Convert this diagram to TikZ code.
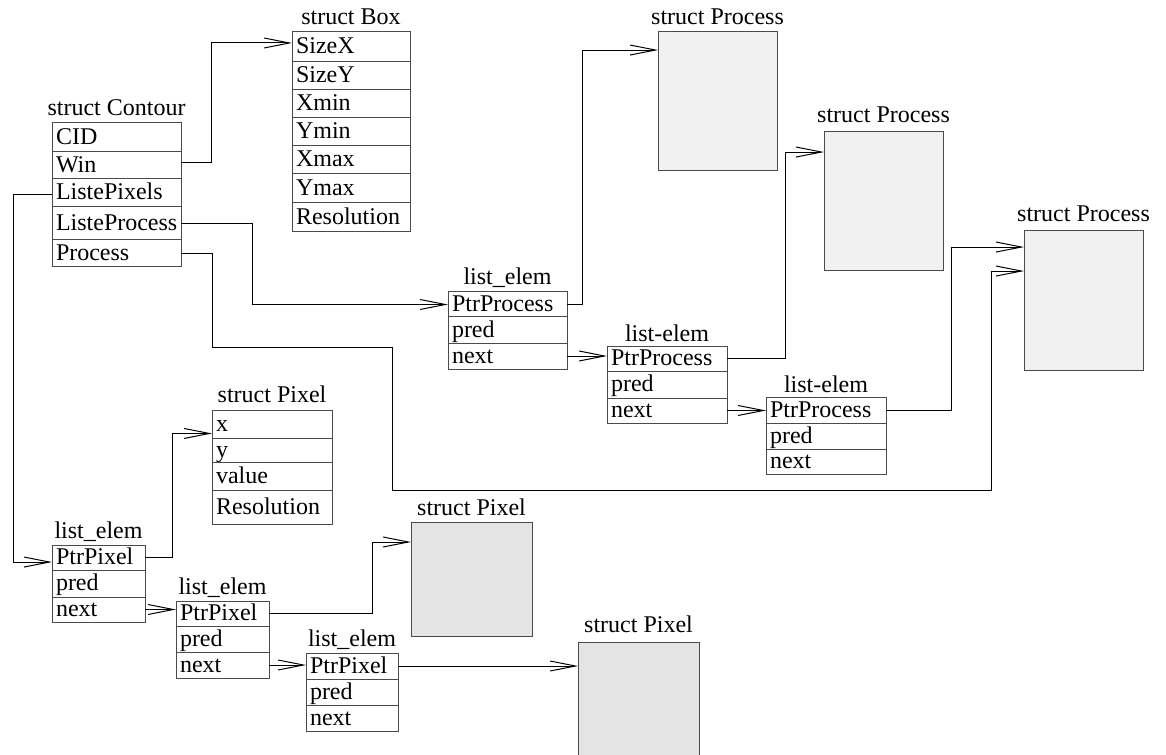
\documentclass[tikz,border=0pt]{standalone}
\usepackage{fontspec}
\setmainfont{Liberation Serif}
\usetikzlibrary{arrows.meta,calc}
\definecolor{procfill}{HTML}{F1F1F1}
\definecolor{pixfill}{HTML}{E4E4E4}
\definecolor{boxline}{HTML}{4A4A4A}
\tikzset{
  fieldbox/.style={draw=boxline, line width=0.75pt, rectangle, inner ysep=0pt,
    inner xsep=3pt, outer sep=0pt, align=left, anchor=north west,
    font=\fontsize{18pt}{20pt}\selectfont, text height=14pt, text depth=3.5pt},
  bigbox/.style={draw=boxline, line width=0.75pt, rectangle, inner sep=0pt,
    outer sep=0pt, anchor=north west},
  titletext/.style={anchor=base, inner sep=0pt, font=\fontsize{18pt}{20pt}\selectfont},
  conn/.style={draw=black, line width=0.75pt,
    -{Straight Barb[length=19pt,width=7.5pt,line width=0.75pt]}},
}
\newcommand\fieldrow[6]{%
  \node[fieldbox, text width={(#4-8)*0.75pt}, minimum height={#5*0.75pt}] (#1) at (#2,#3) {#6};}
\begin{document}
\begin{tikzpicture}[x=0.75pt,y=-0.75pt]
\useasboundingbox (0,0) rectangle (1166,755);
\clip (0,0) rectangle (1166,755);

% struct Contour
\fieldrow{cid}{52}{123}{129}{29}{CID}
\fieldrow{win}{52}{152}{129}{27}{Win}
\fieldrow{lpix}{52}{179}{129}{28}{ListePixels}
\fieldrow{lproc}{52}{207}{129}{33}{ListeProcess}
\fieldrow{proc}{52}{240}{129}{27}{Process}
\node[titletext] (tcont) at ([yshift=5.25pt]cid.north) {struct Contour};

% struct Box
\fieldrow{sizex}{292}{32}{118}{30}{SizeX}
\fieldrow{sizey}{292}{62}{118}{28}{SizeY}
\fieldrow{xmin}{292}{90}{118}{28}{Xmin}
\fieldrow{ymin}{292}{118}{118}{28}{Ymin}
\fieldrow{xmax}{292}{146}{118}{28}{Xmax}
\fieldrow{ymax}{292}{174}{118}{29}{Ymax}
\fieldrow{bres}{292}{203}{118}{29}{Resolution}
\node[titletext] (tbox) at ([yshift=5.25pt]sizex.north) {struct Box};

% process list elements
\fieldrow{pa1}{448}{292}{119}{25}{PtrProcess}
\fieldrow{pb1}{448}{317}{119}{26}{pred}
\fieldrow{pc1}{448}{343}{119}{26}{next}
\node[titletext] (tpl1) at ([yshift=5.25pt]pa1.north) {list\_elem};

\fieldrow{pa2}{607}{346}{120}{25}{PtrProcess}
\fieldrow{pb2}{607}{371}{120}{27}{pred}
\fieldrow{pc2}{607}{398}{120}{25}{next}
\node[titletext] (tpl2) at ([yshift=3.5pt]pa2.north) {list-elem};

\fieldrow{pa3}{766}{397}{120}{26}{PtrProcess}
\fieldrow{pb3}{766}{423}{120}{26}{pred}
\fieldrow{pc3}{766}{449}{120}{25}{next}
\node[titletext] (tpl3) at ([yshift=3.5pt]pa3.north) {list-elem};

% struct Process boxes
\node[bigbox, fill=procfill, minimum width={119*0.75pt}, minimum height={139*0.75pt}] (P1) at (658,32) {};
\node[titletext] (tP1) at ([yshift=5.25pt]P1.north) {struct Process};
\node[bigbox, fill=procfill, minimum width={119*0.75pt}, minimum height={139*0.75pt}] (P2) at (824,132) {};
\node[titletext] (tP2) at ([yshift=6.75pt]P2.north) {struct Process};
\node[bigbox, fill=procfill, minimum width={119*0.75pt}, minimum height={139*0.75pt}] (P3) at (1024,231) {};
\node[titletext] (tP3) at ([yshift=6.75pt]P3.north) {struct Process};

% struct Pixel table
\fieldrow{px}{212}{410}{120}{28}{x}
\fieldrow{py}{212}{438}{120}{24}{y}
\fieldrow{pv}{212}{462}{120}{28}{value}
\fieldrow{pr}{212}{490}{120}{34}{Resolution}
\node[titletext] (tpix) at ([yshift=6pt]px.north) {struct Pixel};

% pixel list elements
\fieldrow{la1}{52}{545}{93}{25}{PtrPixel}
\fieldrow{lb1}{52}{570}{93}{27}{pred}
\fieldrow{lc1}{52}{597}{93}{25}{next}
\node[titletext] (tl1) at ([yshift=5.25pt]la1.north) {list\_elem};

\fieldrow{la2}{176}{601}{93}{25}{PtrPixel}
\fieldrow{lb2}{176}{626}{93}{26}{pred}
\fieldrow{lc2}{176}{652}{93}{26}{next}
\node[titletext] (tl2) at ([yshift=5.25pt]la2.north) {list\_elem};

\fieldrow{la3}{306}{653}{92}{26}{PtrPixel}
\fieldrow{lb3}{306}{679}{92}{26}{pred}
\fieldrow{lc3}{306}{705}{92}{26}{next}
\node[titletext] (tl3) at ([yshift=5.25pt]la3.north) {list\_elem};

% struct Pixel boxes
\node[bigbox, fill=pixfill, minimum width={121*0.75pt}, minimum height={114*0.75pt}] (X2) at (411,522) {};
\node[titletext] (tX2) at ([yshift=5.25pt]X2.north) {struct Pixel};
\node[bigbox, fill=pixfill, minimum width={121*0.75pt}, minimum height={150*0.75pt}] (X3) at (578,642) {};
\node[titletext] (tX3) at ([yshift=7.5pt]X3.north) {struct Pixel};

% connectors
\draw[conn] ([yshift=1.9pt]win.east) -- ++(30,0) |- ([yshift=3pt]sizex.west);
\draw[conn] ([yshift=-1.5pt]lpix.west) -- ++(-39,0) |- ([yshift=-3.4pt]la1.west);
\draw[conn] (lproc.east) -- ++(71,0) |- (pa1.west);
\draw[conn] (proc.east) -- ++(31,0) -- ++(0,93.5) -- ++(180,0) -- ++(0,143) -- ++(599,0) |- ([yshift=22.1pt]P3.west);
\draw[conn] (pa1.east) -- ++(15,0) |- ([yshift=38.6pt]P1.west);
\draw[conn] (pa2.east) -- ++(58,0) |- ([yshift=37.1pt]P2.west);
\draw[conn] (pa3.east) -- ++(65,0) |- ([yshift=40.1pt]P3.west);
\draw[conn] (pc1.east) -- (pc1.east -| pa2.west);
\draw[conn] (pc2.east) -- (pc2.east -| pa3.west);
\draw[conn] (la1.east) -- ++(27,0) |- ([yshift=-7.1pt]px.west);
\draw[conn] (lc1.east) -- (lc1.east -| la2.west);
\draw[conn] (la2.east) -- ++(103,0) |- ([yshift=27.75pt]X2.west);
\draw[conn] (lc2.east) -- (lc2.east -| la3.west);
\draw[conn] (la3.east) -- (la3.east -| X3.west);
\end{tikzpicture}
\end{document}
